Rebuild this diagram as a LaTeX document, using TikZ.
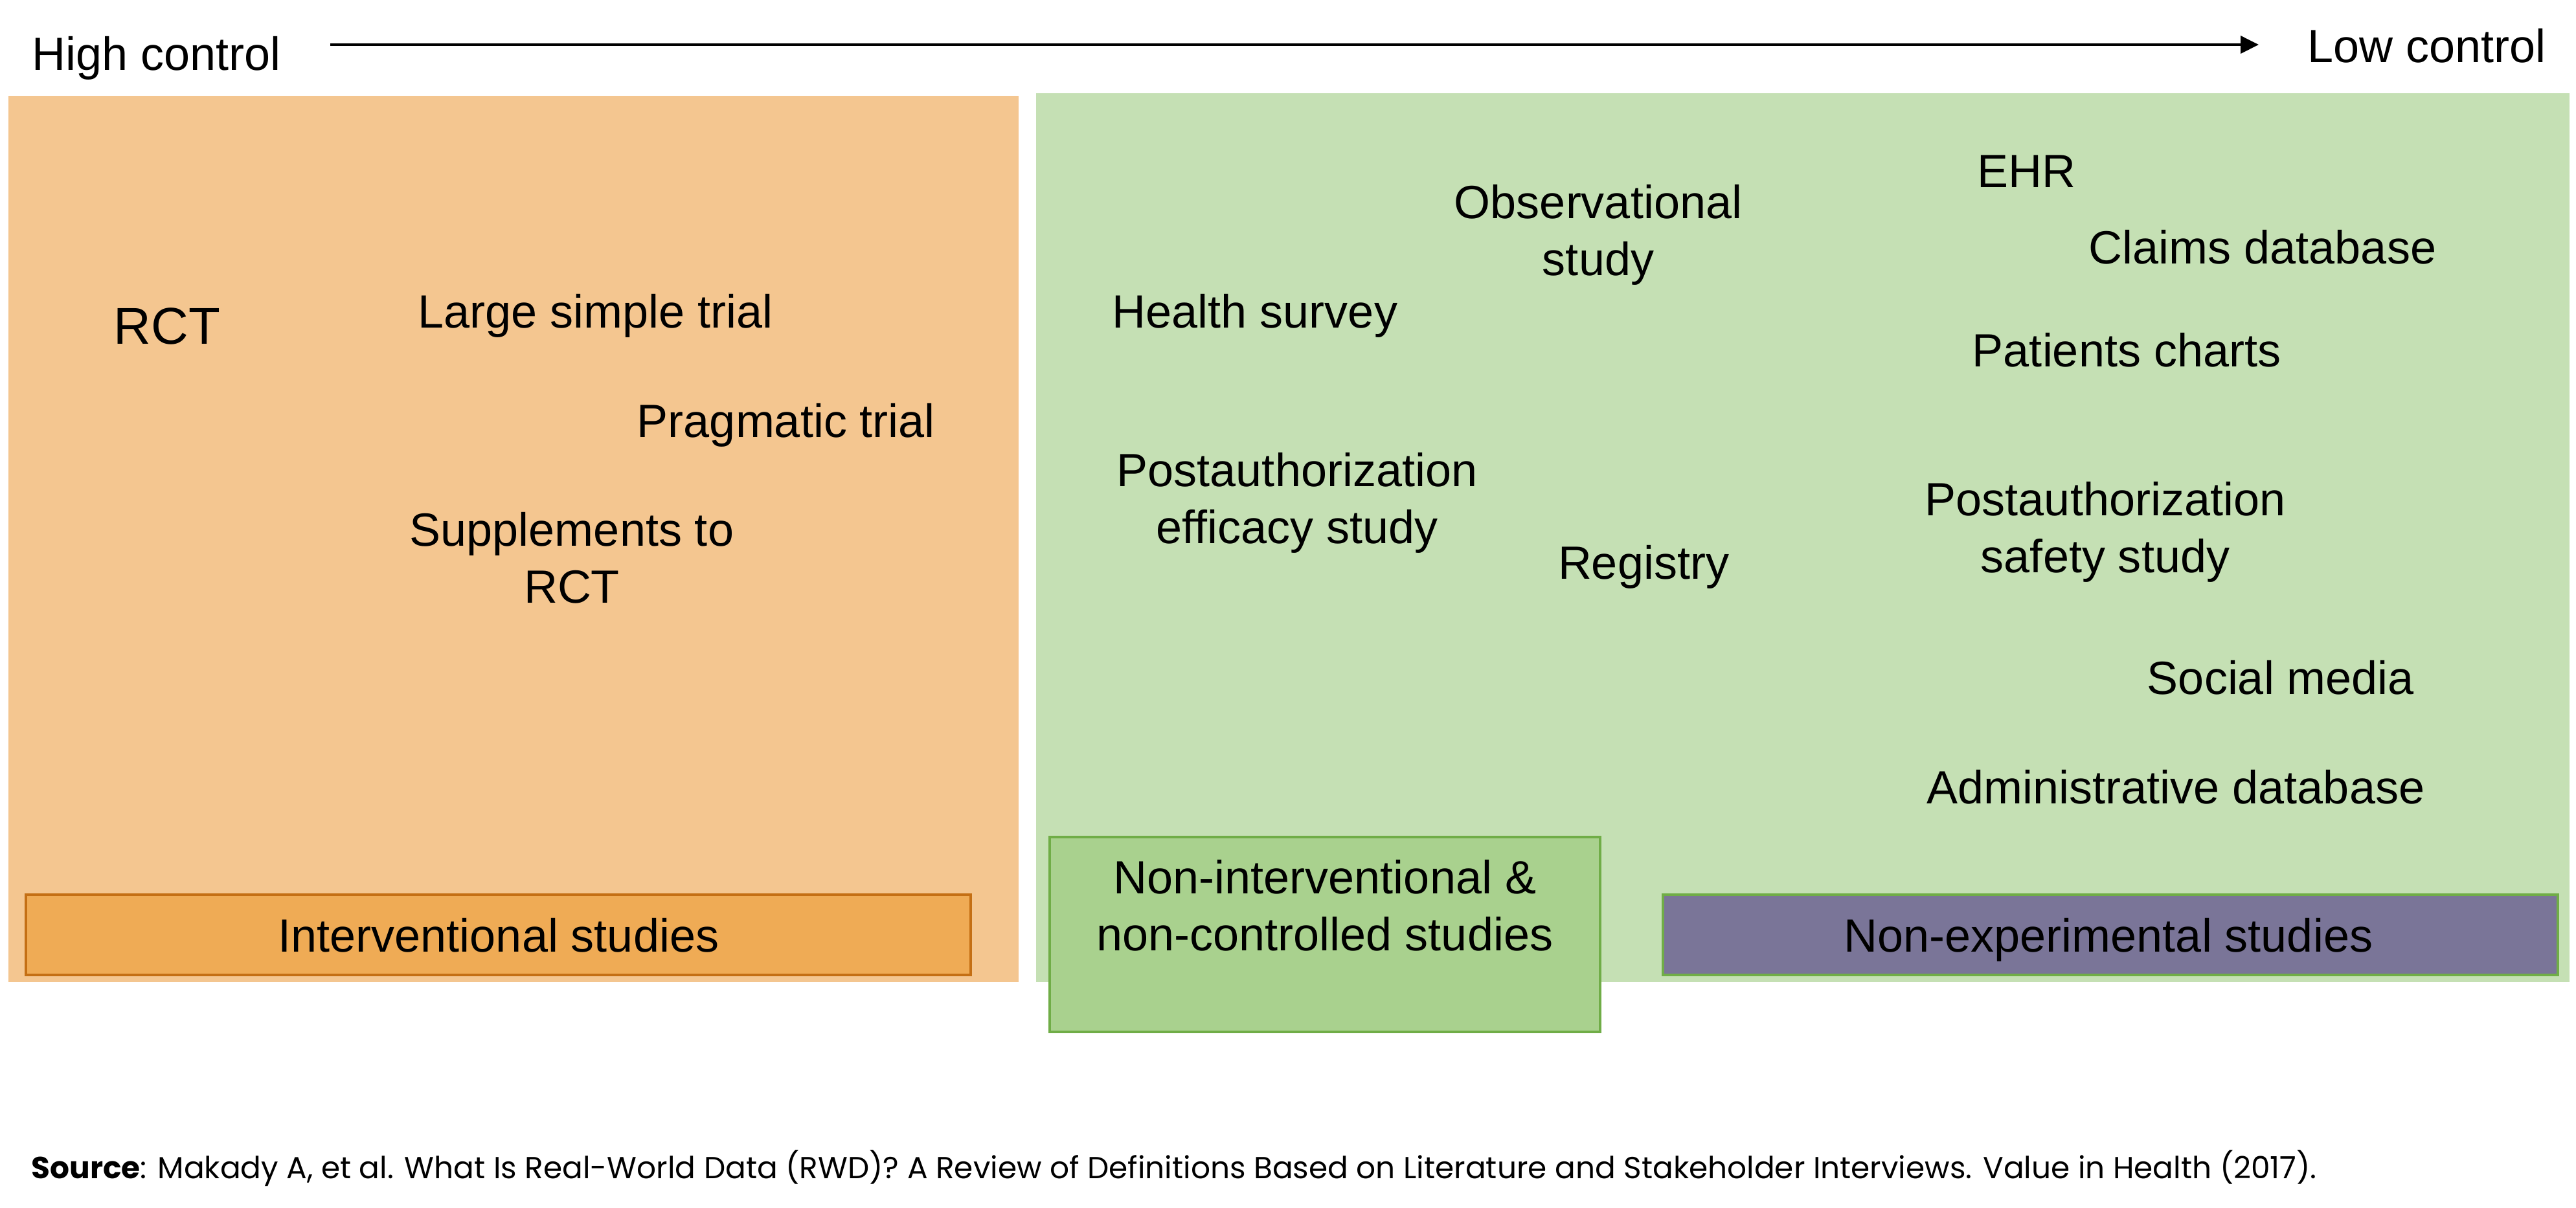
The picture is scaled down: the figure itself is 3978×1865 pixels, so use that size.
\documentclass[tikz,border=0pt]{standalone}
\usepackage{fontspec}
\setmainfont{Liberation Sans}
\newfontfamily\srcfont{Poppins}
\usetikzlibrary{arrows.meta}
\definecolor{orangebg}{HTML}{F4C690}
\definecolor{greenbg}{HTML}{C5E0B4}
\definecolor{intfill}{HTML}{EFAB55}
\definecolor{intdraw}{HTML}{C46F14}
\definecolor{nifill}{HTML}{A9D18E}
\definecolor{nidraw}{HTML}{70AD47}
\definecolor{purplefill}{HTML}{7A7598}
\begin{document}
\begin{tikzpicture}[x=0.25pt,y=-0.25pt,
  area/.style={fill=#1, draw=none, inner sep=0pt, outer sep=0pt, rectangle},
  tagbox/.style 2 args={fill=#1, draw=#2, line width=0.8pt, inner sep=0pt, outer sep=0pt, rectangle},
  txt/.style={inner sep=0pt, anchor=base, font=\fontsize{18}{22}\selectfont, align=center},
  axislbl/.style={inner sep=0pt, anchor=base west, font=\fontsize{18}{22}\selectfont}]
\useasboundingbox (0,0) rectangle (3978,1865);

% background areas
\node[area=orangebg, minimum width=390pt, minimum height=342.25pt] (orangearea) at (793,832.5) {};
\node[area=greenbg, minimum width=592pt, minimum height=343.25pt] (greenarea) at (2784,830.5) {};

% axis
\node[axislbl] (high) at (49,108) {High control};
\node[axislbl] (low) at (3563,96) {Low control};
\coordinate (arrS) at (510,69);
\coordinate (arrE) at (3488,69);
\draw[line width=0.9pt, -{Triangle[length=7pt,width=6.75pt]}] (arrS) -- (arrE);

% interventional items (multi-line nodes: base = last line)
\node[txt, font=\fontsize{20}{24}\selectfont] (rct) at (258,531) {RCT};
\node[txt] (lst) at (920,506) {Large simple trial};
\node[txt] (prag) at (1214,675) {Pragmatic trial};
\node[txt] (supp) at (883,931) {Supplements to\\RCT};

% non-interventional items
\node[txt] (obs) at (2468,425) {Observational\\study};
\node[txt] (hs) at (1938,506) {Health survey};
\node[txt] (pae) at (2003,839) {Postauthorization\\efficacy study};
\node[txt] (reg) at (2538,894) {Registry};
\node[txt] (ehr) at (3129,289) {EHR};
\node[txt] (claims) at (3494,407) {Claims database};
\node[txt] (charts) at (3284,566) {Patients charts};
\node[txt] (pas) at (3251,884) {Postauthorization\\safety study};
\node[txt] (social) at (3522,1072) {Social media};
\node[txt] (admin) at (3360,1241) {Administrative database};

% category boxes
\node[tagbox={intfill}{intdraw}, minimum width=364.75pt, minimum height=31pt] (intbox) at (769.5,1444) {};
\node[txt] (intlbl) at (770,1470) {Interventional studies};
\node[tagbox={nifill}{nidraw}, minimum width=212.5pt, minimum height=75.25pt] (nibox) at (2046,1443.5) {};
\node[txt] (nilbl) at (2046,1468) {Non-interventional \&\\non-controlled studies};
\node[tagbox={purplefill}{nidraw}, minimum width=345.5pt, minimum height=31pt] (nebox) at (3259,1444) {};
\node[txt] (nelbl) at (3256,1470) {Non-experimental studies};

% source
\node[inner sep=0pt, anchor=base west, font=\srcfont\fontsize{11.75}{13}\selectfont] (src) at (48,1820)
  {\textbf{Source}: Makady A, et al. What Is Real-World Data (RWD)? A Review of Definitions Based on Literature and Stakeholder Interviews. Value in Health (2017).};
\end{tikzpicture}
\end{document}
